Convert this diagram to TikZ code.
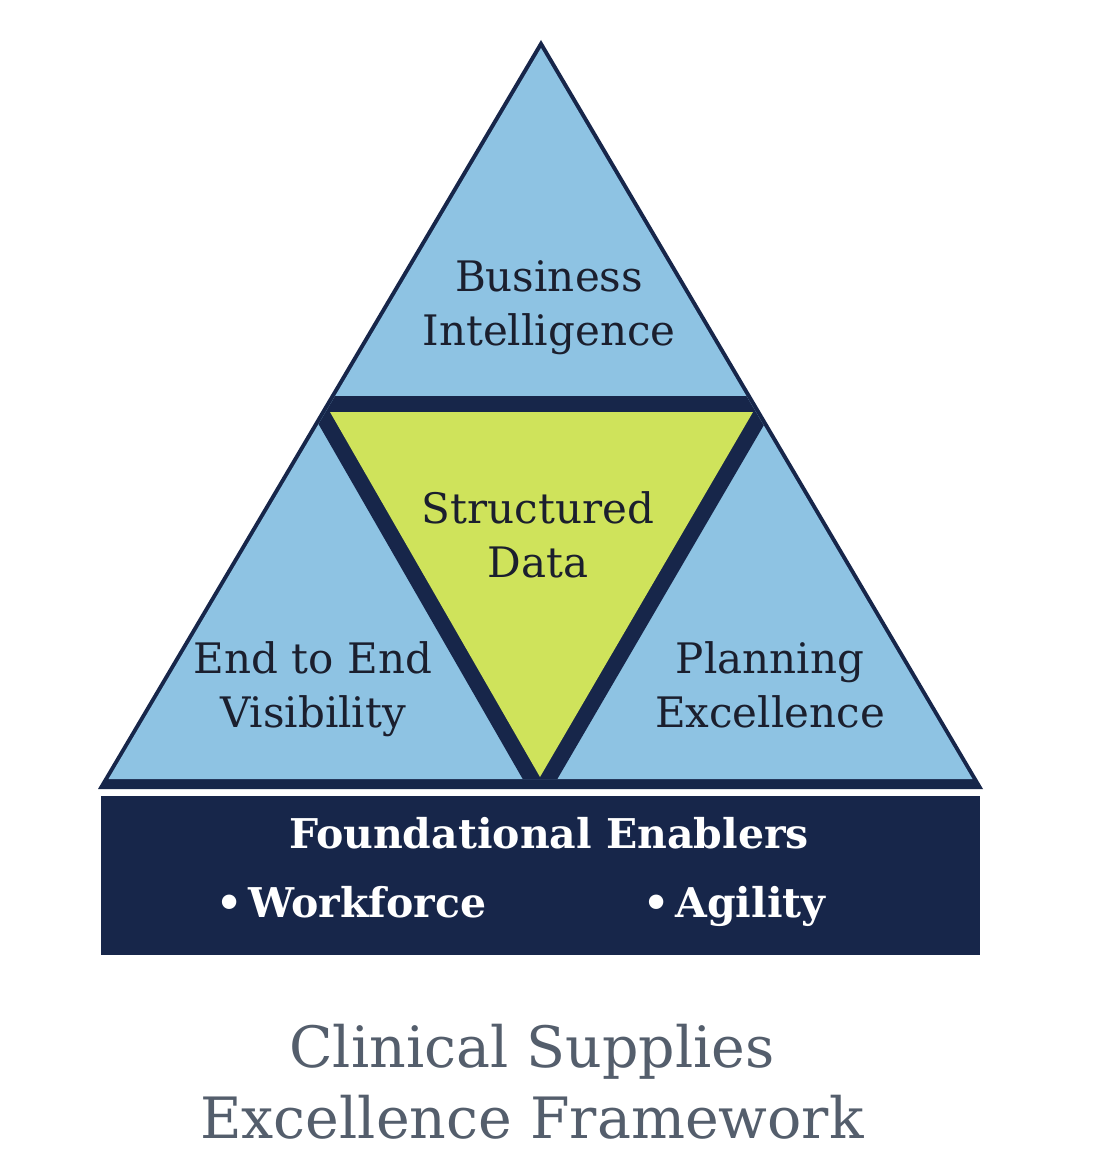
\documentclass[tikz,border=0pt]{standalone}
\usepackage{fontspec}
\setmainfont{DejaVu Serif}
\definecolor{lightblue}{HTML}{8EC3E3}
\definecolor{navy}{HTML}{17264A}
\definecolor{limegreen}{HTML}{CFE35B}
\definecolor{labeltext}{HTML}{1B1F2E}
\definecolor{titlegray}{HTML}{545E6C}
\tikzset{
  lbl/.style={font=\fontsize{42}{54}\selectfont, align=center, text=labeltext, inner sep=0pt},
  enabler/.style={font=\bfseries\fontsize{41}{50}\selectfont, text=white, inner sep=0pt},
  titletext/.style={font=\fontsize{57}{71}\selectfont, align=center, text=titlegray, inner sep=0pt}
}
\begin{document}
\begin{tikzpicture}[x=1pt,y=-1pt]
\useasboundingbox (0,0) rectangle (1100,1158);
\fill[white] (0,0) rectangle (1100,1158);
% outer triangle
\coordinate (A) at (541,40);
\coordinate (L) at (98,789);
\coordinate (R) at (983,789);
\fill[navy] (A) -- (L) -- (R) -- cycle;
\begin{scope}
  \clip (541,48) -- (108.5,779) -- (972.5,779) -- cycle;
  \fill[lightblue] (0,0) rectangle (1100,800);
  \draw[navy, line width=32pt, line join=miter, miter limit=10] (330,412) -- (753,412) -- (540,777) -- cycle;
\end{scope}
\fill[limegreen] (330,412) -- (753,412) -- (540,777) -- cycle;
% foundation box
\fill[navy] (101,796) rectangle (980,955);
% labels (base anchor = baseline of the last line)
\node[lbl, anchor=base] (bi) at (549,345) {Business\\Intelligence};
\node[lbl, anchor=base] (sd) at (538,577) {Structured\\Data};
\node[lbl, anchor=base] (ee) at (313,727) {End to End\\Visibility};
\node[lbl, anchor=base] (pe) at (770,727) {Planning\\Excellence};
\node[enabler, anchor=base] (fe) at (549,848) {Foundational Enablers};
\node[enabler, anchor=base west] (wf) at (216,917) {•\hspace{0.15em}Workforce};
\node[enabler, anchor=base west] (ag) at (643,917) {•\hspace{0.15em}Agility};
\node[titletext, anchor=base] (title) at (532,1138) {Clinical Supplies\\Excellence Framework};
\end{tikzpicture}
\end{document}
